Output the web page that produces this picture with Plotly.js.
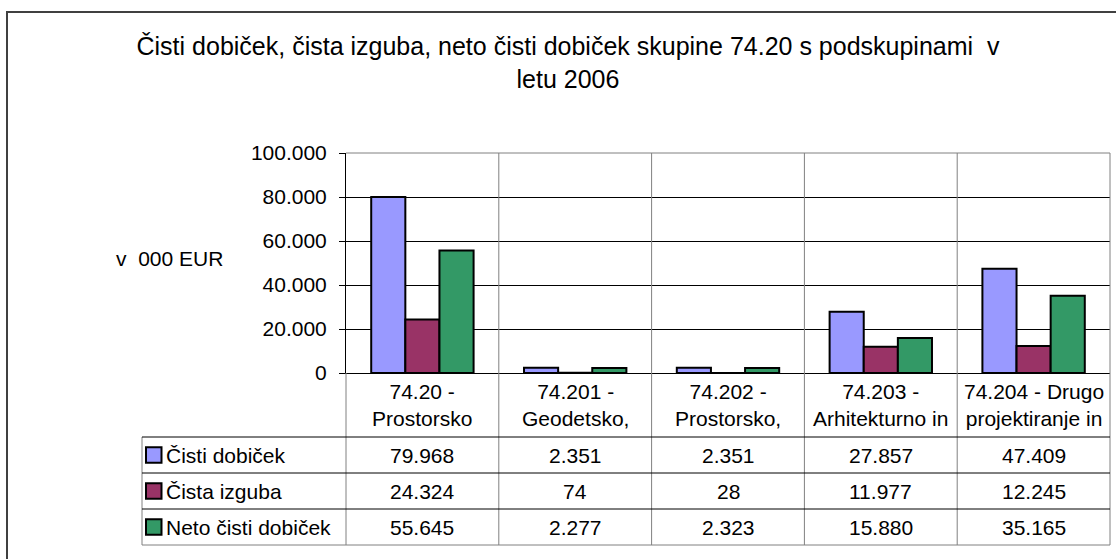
<!DOCTYPE html>
<html>
<head>
<meta charset="utf-8">
<script src="https://cdn.plot.ly/plotly-3.0.1.min.js"></script>
<style>html,body{margin:0;padding:0;background:#fff;}#chart{width:1116px;height:559px;}</style>
</head>
<body>
<div id="chart"></div>
<script>
// ---- data ----
const categories = [
  '74.20 -<br>Prostorsko',
  '74.201 -<br>Geodetsko,',
  '74.202 -<br>Prostorsko,',
  '74.203 -<br>Arhitekturno in',
  '74.204 - Drugo<br>projektiranje in'
];
const seriesNames = ['Čisti dobiček', 'Čista izguba', 'Neto čisti dobiček'];
const cistiDobicek     = [79968, 2351, 2351, 27857, 47409];
const cistaIzguba      = [24324, 74, 28, 11977, 12245];
const netoCistiDobicek = [55645, 2277, 2323, 15880, 35165];
const yTickVals = [0, 20000, 40000, 60000, 80000, 100000];
const titleText = 'Čisti dobiček, čista izguba, neto čisti dobiček skupine 74.20 s podskupinami\u00a0 v<br>letu 2006';
const yTitleText = 'v\u00a0 000 EUR';

// ---- style ----
const seriesValues = [cistiDobicek, cistaIzguba, netoCistiDobicek];
const colors = ['#9999FF', '#993366', '#339966'];
const FONT = 'Liberation Sans, Arial, sans-serif';
const W = 1116, H = 559;
const M = {l: 346, r: 6, t: 153, b: 186};
const plotW = W - M.l - M.r, plotH = H - M.t - M.b;
const px2x = p => (p - M.l) / plotW;
const px2y = p => (H - M.b - p) / plotH;

function fmt(v) {
  return String(v).replace(/\B(?=(\d{3})+(?!\d))/g, '.');
}

const traces = seriesNames.map((name, i) => ({
  type: 'bar',
  name: name,
  x: categories,
  y: seriesValues[i],
  marker: {color: colors[i], line: {color: '#000', width: 2}},
  hoverinfo: 'skip'
}));

// table geometry (pixels)
const tableLeft = 142;
const headerBottom = 437;
const rowLines = [437, 473, 509, 545];
const n = categories.length;

const shapes = [];
const annotations = [];

// outer frame
shapes.push({type: 'rect', xref: 'paper', yref: 'paper',
  x0: px2x(7), x1: px2x(1140), y0: px2y(12), y1: px2y(620),
  line: {color: '#404040', width: 2}, fillcolor: 'rgba(0,0,0,0)'});

// plot area top border
shapes.push({type: 'line', xref: 'paper', yref: 'paper', x0: 0, x1: 1, y0: 1, y1: 1,
  line: {color: '#808080', width: 1}});
// vertical separators (plot + table)
for (let i = 1; i <= n; i++) {
  shapes.push({type: 'line', xref: 'paper', yref: 'paper', x0: i / n, x1: i / n,
    y0: 1, y1: px2y(rowLines[3]), line: {color: '#808080', width: 1}});
}
// table left column line at x=0
shapes.push({type: 'line', xref: 'paper', yref: 'paper', x0: 0, x1: 0,
  y0: 0, y1: px2y(rowLines[3]), line: {color: '#808080', width: 1}});
// table outer left edge
shapes.push({type: 'line', xref: 'paper', yref: 'paper', x0: px2x(tableLeft), x1: px2x(tableLeft),
  y0: px2y(headerBottom), y1: px2y(rowLines[3]), line: {color: '#808080', width: 1}});
// horizontal row lines
rowLines.forEach((p, k) => {
  shapes.push({type: 'line', xref: 'paper', yref: 'paper', x0: px2x(tableLeft), x1: 1,
    y0: px2y(p), y1: px2y(p), line: {color: k === 3 ? '#808080' : '#000', width: 1}});
});

// header labels
categories.forEach((c, i) => {
  annotations.push({xref: 'paper', yref: 'paper', x: (i + 0.5) / n, y: px2y(405),
    xanchor: 'center', yanchor: 'middle', text: c, showarrow: false,
    font: {family: FONT, size: 21, color: '#000'}});
});

// rows: legend keys, labels, values
seriesNames.forEach((name, r) => {
  const cy = (rowLines[r] + rowLines[r + 1]) / 2;
  shapes.push({type: 'rect', xref: 'paper', yref: 'paper',
    x0: px2x(146), x1: px2x(161.5), y0: px2y(cy - 7.8), y1: px2y(cy + 7.8),
    fillcolor: colors[r], line: {color: '#000', width: 2}});
  annotations.push({xref: 'paper', yref: 'paper', x: px2x(164), y: px2y(cy),
    xanchor: 'left', yanchor: 'middle', text: name, showarrow: false,
    font: {family: FONT, size: 21, color: '#000'}});
  seriesValues[r].forEach((v, i) => {
    annotations.push({xref: 'paper', yref: 'paper', x: (i + 0.5) / n, y: px2y(cy),
      xanchor: 'center', yanchor: 'middle', text: fmt(v), showarrow: false,
      font: {family: FONT, size: 21, color: '#000'}});
  });
});

// y-axis title (horizontal)
annotations.push({xref: 'paper', yref: 'paper', x: px2x(169), y: px2y(258),
  xanchor: 'center', yanchor: 'middle', text: yTitleText, showarrow: false,
  font: {family: FONT, size: 21, color: '#000'}});

const layout = {
  width: W, height: H,
  margin: M,
  paper_bgcolor: '#fff', plot_bgcolor: '#fff',
  separators: ',.',
  showlegend: false,
  barmode: 'group',
  bargap: 0.33,
  bargroupgap: 0,
  font: {family: FONT, size: 21, color: '#000'},
  title: {text: titleText, x: 568 / W, xanchor: 'center', xref: 'container',
    yref: 'container', y: 1 - 55 / H, yanchor: 'top',
    font: {family: FONT, size: 25, color: '#000'}},
  xaxis: {type: 'category', showticklabels: false, ticks: '', showgrid: false,
    showline: true, linecolor: '#000', linewidth: 1, zeroline: false, fixedrange: true},
  yaxis: {range: [0, 100000], tickvals: yTickVals, tickformat: ',d',
    ticks: 'outside', ticklen: 6, tickcolor: '#000', tickwidth: 1,
    ticklabelstandoff: 8,
    showline: true, linecolor: '#000', linewidth: 1,
    showgrid: true, gridcolor: '#000', gridwidth: 1, zeroline: false,
    tickfont: {family: FONT, size: 21, color: '#000'}, fixedrange: true},
  shapes: shapes,
  annotations: annotations
};

Plotly.newPlot('chart', traces, layout, {displayModeBar: false, staticPlot: true});
</script>
</body>
</html>
